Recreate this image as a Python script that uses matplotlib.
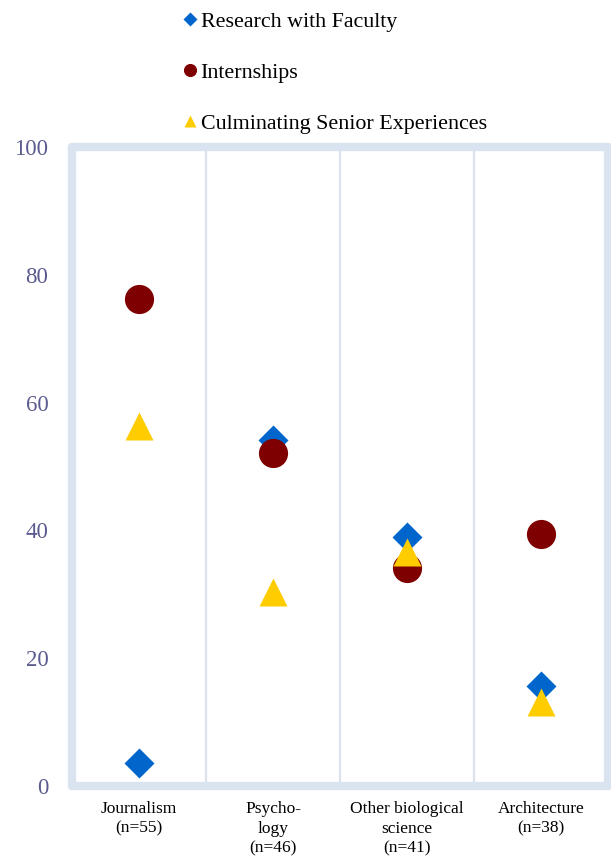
import numpy as np
import matplotlib.pyplot as plt

plt.rcParams['font.family'] = ['Liberation Serif', 'DejaVu Serif']

categories = ['Journalism\n(n=55)', 'Psycho-\nlogy\n(n=46)',
              'Other biological\nscience\n(n=41)', 'Architecture\n(n=38)']
research = [3.6, 54.2, 39.0, 15.7]
internships = [76.3, 52.1, 34.1, 39.4]
senior = [56.3, 30.3, 36.6, 13.1]
yticks = [0, 20, 40, 60, 80, 100]

frame_col = '#DAE4F1'

fig = plt.figure(figsize=(6.11, 8.57), dpi=100)
ax = fig.add_axes([0.118, 0.083, 0.877, 0.745])

x = np.arange(len(categories))

# separators between categories
for sep in x[:-1] + 0.5:
    ax.axvline(sep, color='#DCE3EE', lw=1.6, zorder=1)

ax.plot(x, research, linestyle='none', marker='D', ms=15.5, color='#0066CC',
        mec='none', zorder=3, label='Research with Faculty')
ax.plot(x, internships, linestyle='none', marker='o', ms=21, color='#7F0000',
        mec='none', zorder=4, label='Internships')
ax.plot(x, senior, linestyle='none', marker='^', ms=20, color='#FFCC00',
        mec='none', zorder=5, label='Culminating Senior Experiences')

ax.set_xlim(-0.5, 3.5)
ax.set_ylim(0, 100)
ax.set_xticks(x)
ax.set_xticklabels(categories, fontsize=12.5, linespacing=1.3)
ax.set_yticks(yticks)
ax.set_yticklabels([str(v) for v in yticks], fontsize=16.5, color='#5B5B8F')
ax.tick_params(axis='both', length=0)
ax.tick_params(axis='y', pad=17)
ax.tick_params(axis='x', pad=11)

for sp in ax.spines.values():
    sp.set_color(frame_col)
    sp.set_linewidth(6)
    sp.set_capstyle('round')

handles, labels = ax.get_legend_handles_labels()
leg = fig.legend(handles, labels, loc='upper left', bbox_to_anchor=(0.271, 1.01),
                 frameon=False, fontsize=15.8, markerscale=0.45, handlelength=0.45,
                 handletextpad=0.25, labelspacing=1.4)

fig.savefig('out.png', dpi=100)
